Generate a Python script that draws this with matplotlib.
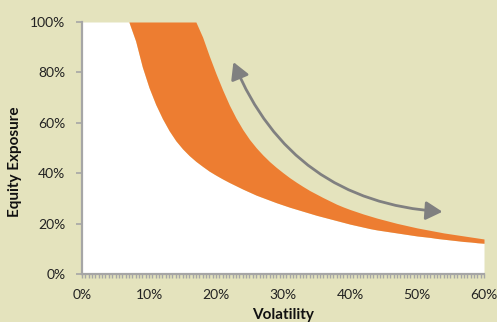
import matplotlib.pyplot as plt
import numpy as np

# Volatility grid (%) and the two exposure bounds (%)
volatility = list(range(0, 61))
exposure_low = [100, 100, 100, 100, 100, 100, 100, 100,
                92.5, 82.2, 74, 67.3, 61.7, 56.9, 52.9, 49.7, 47, 44.7, 42.7, 40.8,
                39.2, 37.7, 36.3, 35.0, 33.7, 32.5, 31.3, 30.3, 29.3, 28.3,
                27.4, 26.5, 25.7, 24.9, 24.1, 23.3, 22.6, 21.9, 21.2, 20.5,
                19.8, 19.2, 18.6, 18.0, 17.5, 17.1, 16.7, 16.3, 15.9, 15.5,
                15.1, 14.8, 14.5, 14.1, 13.8, 13.5, 13.2, 12.9, 12.7, 12.4,
                12.2]
exposure_high = [100] * 18 + [
                94, 86.5, 79.5, 73, 67, 61.8, 57.3, 53.4, 50.1, 47.2,
                44.6, 42.3, 40.2, 38.2, 36.4, 34.7, 33.1, 31.7, 30.3, 29.0,
                27.7, 26.6, 25.6, 24.7, 23.8, 23.0, 22.2, 21.5, 20.8, 20.1,
                19.5, 18.9, 18.3, 17.8, 17.3, 16.8, 16.3, 15.9, 15.5, 15.1,
                14.7, 14.3, 13.9]
x_ticks = [0, 10, 20, 30, 40, 50, 60]
y_ticks = [0, 20, 40, 60, 80, 100]

BG = '#e4e3bd'
ORANGE = '#ed7d31'
AXIS_GREY = '#a6a6a6'
ARROW_GREY = '#808080'

plt.rcParams['font.family'] = ['Lato', 'DejaVu Sans']

fig = plt.figure(figsize=(4.97, 3.22), dpi=100, facecolor=BG)
ax = fig.add_axes([82 / 497, 1 - 274 / 322, 402 / 497, 252 / 322])
ax.set_facecolor(BG)

vol = np.array(volatility)
low = np.array(exposure_low)
high = np.array(exposure_high)
ax.fill_between(vol, 0, low, color='white', linewidth=0)
ax.fill_between(vol, low, high, color=ORANGE, linewidth=0)

ax.set_xlim(0, 60)
ax.set_ylim(0, 100)
ax.set_xticks(x_ticks)
ax.set_xticklabels([f'{t}%' for t in x_ticks])
ax.set_xticks(np.arange(0, 60.01, 0.5), minor=True)
ax.set_yticks(y_ticks)
ax.set_yticklabels([f'{t}%' for t in y_ticks])

for side in ['top', 'right']:
    ax.spines[side].set_visible(False)
for side in ['left', 'bottom']:
    ax.spines[side].set_color(AXIS_GREY)
    ax.spines[side].set_linewidth(1.6)

ax.tick_params(axis='x', which='both', length=3, width=1, color=AXIS_GREY,
               direction='out', labelsize=10, pad=8, labelcolor='#222222')
ax.tick_params(axis='y', length=4, width=1.2, color=AXIS_GREY,
               direction='out', labelsize=10, pad=8, labelcolor='#222222')

# curved double-headed arrow across the band
ax.annotate('', xy=(53.8, 24.7), xytext=(22.6, 84.1),
            arrowprops=dict(arrowstyle='<|-|>,head_length=0.5,head_width=0.28',
                            connectionstyle='arc3,rad=0.31',
                            color=ARROW_GREY, lw=2, mutation_scale=20,
                            shrinkA=0, shrinkB=0))

fig.text(15.5 / 497, 1 - 162 / 322, 'Equity Exposure', rotation=90,
         ha='center', va='center', fontsize=11, fontweight='bold', color='#111111')
fig.text(283 / 497, 1 - 308 / 322, 'Volatility', ha='center', va='top',
         fontsize=11, fontweight='bold', color='#111111')

plt.savefig('out.png', dpi=100, facecolor=BG)
